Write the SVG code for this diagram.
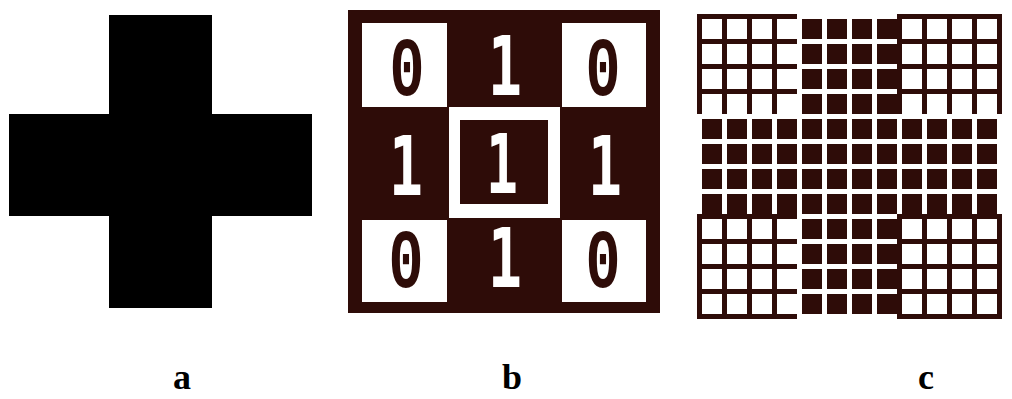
<svg xmlns="http://www.w3.org/2000/svg" width="1012" height="399" viewBox="0 0 1012 399">
<style>
.dk{fill:#2e0c08}
.wh{fill:#ffffff}
.zero{font-family:"Liberation Mono","DejaVu Sans Mono",monospace;font-weight:bold;font-size:84px;fill:#2e0c08;text-anchor:middle}
.one{font-family:"DejaVu Sans Mono","Liberation Mono",monospace;font-weight:bold;font-size:82px;fill:#ffffff;text-anchor:middle}
.lbl{font-family:"Liberation Serif","Times New Roman",serif;font-weight:bold;font-size:36px;fill:#000;text-anchor:middle}
</style>
<rect width="1012" height="399" fill="#ffffff"/>
<g id="a">
<path d="M109 15H212V114H312V216H212V308H109V216H9V114H109Z" fill="#000"/>
<text class="lbl" x="182" y="389">a</text>
</g>
<g id="b">
<rect class="dk" x="348" y="10" width="312" height="303"/>
<rect class="wh" x="362" y="23" width="85" height="84"/>
<rect class="wh" x="562" y="23" width="84" height="84"/>
<rect class="wh" x="362" y="220" width="85" height="82"/>
<rect class="wh" x="562" y="220" width="84" height="82"/>
<rect class="wh" x="449" y="107" width="111" height="111"/>
<rect class="dk" x="460" y="120" width="88" height="84"/>
<text class="zero" x="407" y="95" textLength="35" lengthAdjust="spacingAndGlyphs">0</text>
<text class="one" x="505" y="95" textLength="34" lengthAdjust="spacingAndGlyphs">1</text>
<text class="zero" x="603" y="95" textLength="35" lengthAdjust="spacingAndGlyphs">0</text>
<text class="one" x="406" y="195" textLength="34" lengthAdjust="spacingAndGlyphs">1</text>
<text class="one" x="502" y="193" textLength="32" lengthAdjust="spacingAndGlyphs">1</text>
<text class="one" x="605" y="195" textLength="34" lengthAdjust="spacingAndGlyphs">1</text>
<text class="zero" x="406" y="287" textLength="35" lengthAdjust="spacingAndGlyphs">0</text>
<text class="one" x="505" y="287" textLength="34" lengthAdjust="spacingAndGlyphs">1</text>
<text class="zero" x="603" y="287" textLength="35" lengthAdjust="spacingAndGlyphs">0</text>
<text class="lbl" x="512" y="389">b</text>
</g>
<g id="c">
<defs>
<pattern id="wcell" x="697" y="14" width="25" height="25" patternUnits="userSpaceOnUse">
<rect x="5" y="5" width="20" height="20" fill="#ffffff"/>
</pattern>
<pattern id="dcell" x="697" y="14" width="25" height="25" patternUnits="userSpaceOnUse">
<rect x="5" y="5" width="20" height="20" fill="#2e0c08"/>
</pattern>
</defs>
<rect class="dk" x="697" y="14" width="100" height="100"/>
<rect x="697" y="14" width="100" height="100" fill="url(#wcell)"/>
<rect class="dk" x="897" y="14" width="105" height="100"/>
<rect x="897" y="14" width="100" height="100" fill="url(#wcell)"/>
<rect class="dk" x="697" y="214" width="100" height="105"/>
<rect x="697" y="214" width="100" height="100" fill="url(#wcell)"/>
<rect class="dk" x="897" y="214" width="105" height="105"/>
<rect x="897" y="214" width="100" height="100" fill="url(#wcell)"/>
<rect x="797" y="14" width="100" height="100" fill="url(#dcell)"/>
<rect x="697" y="114" width="300" height="100" fill="url(#dcell)"/>
<rect x="797" y="214" width="100" height="100" fill="url(#dcell)"/>
<text class="lbl" x="926" y="389">c</text>
</g>
</svg>
